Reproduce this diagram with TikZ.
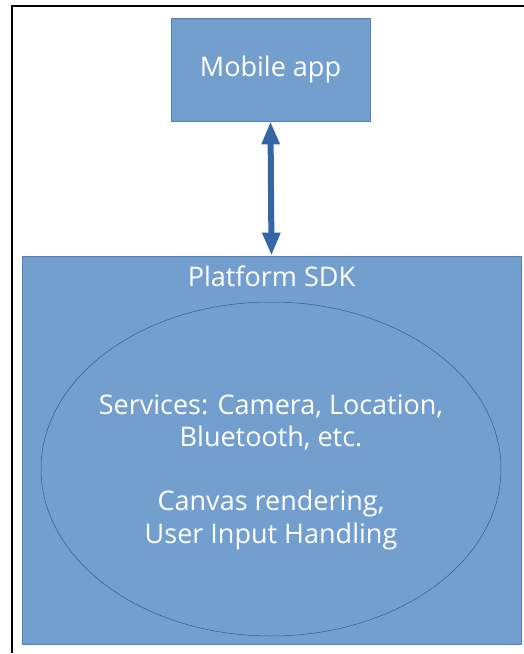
\documentclass[tikz,border=0pt]{standalone}
\usepackage{fontspec}
\setmainfont{Open Sans}
\usetikzlibrary{arrows.meta, shapes.geometric}
\definecolor{RellenoCaja}{RGB}{115,159,207}
\definecolor{BordeCaja}{RGB}{79,129,189}
\definecolor{Flecha}{RGB}{52,101,166}
\tikzset{
    caja/.style={
        draw=BordeCaja, fill=RellenoCaja, line width=0.8pt,
        text=white, font=\fontsize{27}{32}\selectfont
    },
    bloque/.style={
        draw=Flecha!90!black, line width=0.5pt, ellipse, inner sep=0pt
    },
    texto/.style={
        text=white, align=center, inner sep=0pt, font=\fontsize{27}{32.3}\selectfont
    },
    flecha/.style={
        draw=Flecha, line width=6pt,
        {Triangle[length=23pt, width=17pt]}-{Triangle[length=23pt, width=17pt]}
    }
}

\begin{document}
\begin{tikzpicture}[x=1pt, y=-1pt]

\useasboundingbox (0,0) rectangle (524,654);

% Marco exterior.
\coordinate (F1) at (12, 653);
\coordinate (F2) at (12, 6);
\coordinate (F3) at (524, 6);
\draw[line width=2.4pt] (F1) -- (F2) -- (F3);

% Caja de la aplicacion movil.
\node[caja, minimum width=199pt, minimum height=103pt] (app) at (270.5, 69.5) {Mobile app};

% Caja del SDK de la plataforma.
\node[caja, minimum width=499pt, minimum height=388pt] (sdk) at (271.5, 450) {};
\node[texto, anchor=north] (sdklabel) at ([yshift=-10pt]sdk.north) {Platform SDK};

% Elipse con los servicios.
\node[bloque, minimum width=460pt, minimum height=334pt] (servicios) at (271, 469) {};
\node[texto] (serviciostexto) at ([yshift=-3pt]servicios.center)
    {Services: Camera, Location,\\Bluetooth, etc.\\[32.3pt]Canvas rendering,\\User Input Handling};

% Flecha entre la app y el SDK.
\draw[flecha] (app.south) -- (sdk.north);

\end{tikzpicture}
\end{document}
